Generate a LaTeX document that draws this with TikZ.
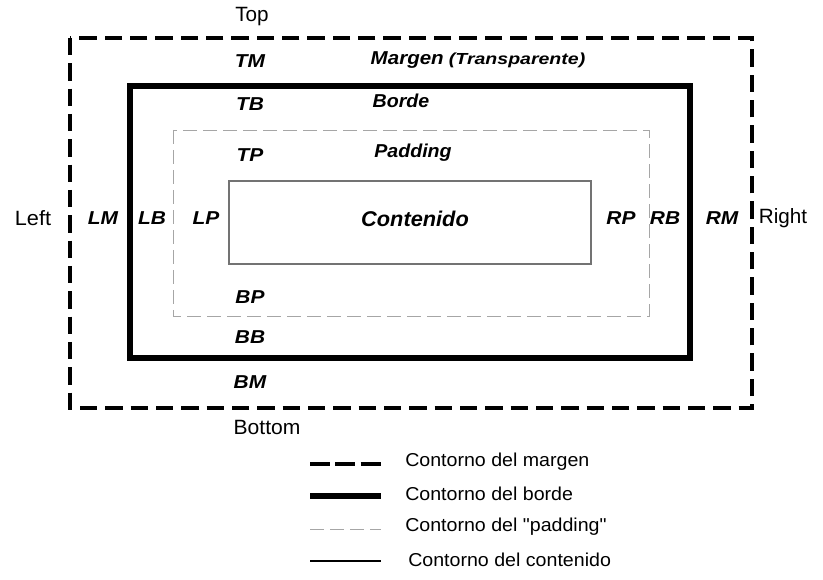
\documentclass[tikz,border=0pt]{standalone}
\usepackage{fontspec}
\usepackage{graphicx}
\setmainfont{Liberation Sans}[Ligatures=TeXOff]
\newcommand{\hsc}[2]{\scalebox{#1}[1]{#2}}
\begin{document}
\begin{tikzpicture}[x=0.75pt,y=-0.75pt,
  plain/.style={inner sep=0pt,font=\fontsize{15.5}{18}\selectfont},
  lbl/.style={inner sep=0pt,font=\fontsize{14}{16}\selectfont\bfseries\itshape},
  leg/.style={inner sep=0pt,anchor=west,font=\fontsize{14}{16}\selectfont},
  marginline/.style={line width=3pt,dash pattern=on 13pt off 6pt},
  borderline/.style={line width=3.8pt},
  paddingline/.style={line width=0.7pt,gray!70,dash pattern=on 10.5pt off 4.5pt},
  contentline/.style={line width=1pt,black!55}]
\useasboundingbox (0,0) rectangle (823,580);
% boxes
\draw[marginline] (70,38) rectangle (752,408);
\draw[borderline] (130,86) rectangle (690,358);
\draw[paddingline] (173,130) rectangle (649,316);
\draw[contentline] (229,181) rectangle (591,264);
% outer labels
\node[plain] (top) at (252,17) {\hsc{1.0}{Top}};
\node[plain] (bottom) at (267,427) {\hsc{1.02}{Bottom}};
\node[plain] (left) at (33,218) {\hsc{1.05}{Left}};
\node[plain] (right) at (783,218) {\hsc{1.0}{Right}};
% side labels
\node[lbl] (tm) at (250,61) {\hsc{1.12}{TM}};
\node[lbl] (tb) at (250,104) {\hsc{1.12}{TB}};
\node[lbl] (tp) at (250,155) {\hsc{1.12}{TP}};
\node[lbl] (bp) at (250,297) {\hsc{1.12}{BP}};
\node[lbl] (bb) at (250,337) {\hsc{1.12}{BB}};
\node[lbl] (bm) at (250,382) {\hsc{1.12}{BM}};
\node[lbl] (lm) at (103,218) {\hsc{1.12}{LM}};
\node[lbl] (lb) at (152,218) {\hsc{1.12}{LB}};
\node[lbl] (lp) at (206,218) {\hsc{1.12}{LP}};
\node[lbl] (rp) at (621,218) {\hsc{1.12}{RP}};
\node[lbl] (rb) at (665,218) {\hsc{1.12}{RB}};
\node[lbl] (rm) at (722,218) {\hsc{1.12}{RM}};
% titles
\node[lbl] (margen) at (478,60) {\hsc{1.1}{Margen} {\fontsize{12}{14}\selectfont\hsc{1.22}{(Transparente)}}};
\node[lbl] (borde) at (401,101) {\hsc{1.05}{Borde}};
\node[lbl] (padding) at (413,153) {\hsc{1.05}{Padding}};
\node[lbl,font=\fontsize{16}{18}\selectfont\bfseries\itshape] (contenido) at (415,219) {\hsc{1.02}{Contenido}};
% legend
\coordinate (l1a) at (310,464); \coordinate (l1b) at (381,464);
\coordinate (l2a) at (310,496); \coordinate (l2b) at (381,496);
\coordinate (l3a) at (310,529); \coordinate (l3b) at (381,529);
\coordinate (l4a) at (310,561); \coordinate (l4b) at (381,561);
\draw[line width=3.5pt,dash pattern=on 15pt off 4pt] (l1a) -- (l1b);
\draw[borderline] (l2a) -- (l2b);
\draw[paddingline] (l3a) -- (l3b);
\draw[line width=0.9pt] (l4a) -- (l4b);
\node[leg] (t1) at (405,462) {\hsc{1.05}{Contorno del margen}};
\node[leg] (t2) at (405,494) {\hsc{1.05}{Contorno del borde}};
\node[leg] (t3) at (405,527) {\hsc{1.05}{Contorno del "padding"}};
\node[leg] (t4) at (408,560) {\hsc{1.05}{Contorno del contenido}};
\end{tikzpicture}
\end{document}
